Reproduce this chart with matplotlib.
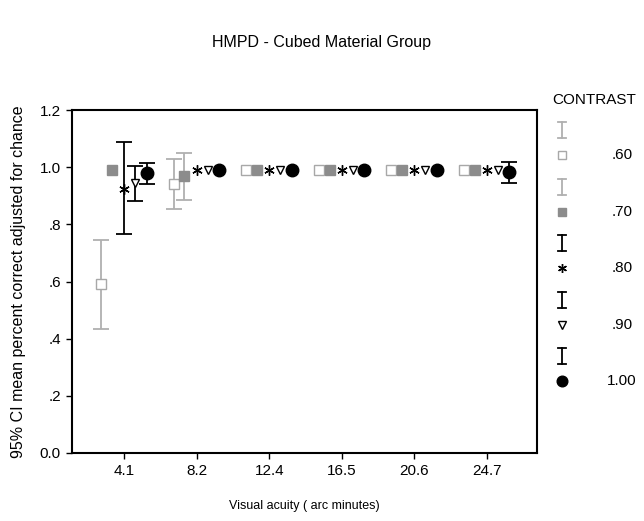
import numpy as np
import matplotlib.pyplot as plt

plt.rcParams['font.family'] = ['Liberation Sans', 'DejaVu Sans']

categories = ['4.1', '8.2', '12.4', '16.5', '20.6', '24.7']
contrasts = ['.60', '.70', '.80', '.90', '1.00']

# mean and 95% CI (low, high) per contrast, per acuity
mean_60 = [0.59, 0.94, 0.99, 0.99, 0.99, 0.99]
low_60 = [0.435, 0.855, 0.99, 0.99, 0.99, 0.99]
high_60 = [0.745, 1.03, 0.99, 0.99, 0.99, 0.99]

mean_70 = [0.99, 0.97, 0.99, 0.99, 0.99, 0.99]
low_70 = [0.99, 0.885, 0.99, 0.99, 0.99, 0.99]
high_70 = [0.99, 1.05, 0.99, 0.99, 0.99, 0.99]

mean_80 = [0.925, 0.99, 0.99, 0.99, 0.99, 0.99]
low_80 = [0.765, 0.99, 0.99, 0.99, 0.99, 0.99]
high_80 = [1.088, 0.99, 0.99, 0.99, 0.99, 0.99]

mean_90 = [0.945, 0.99, 0.99, 0.99, 0.99, 0.99]
low_90 = [0.882, 0.99, 0.99, 0.99, 0.99, 0.99]
high_90 = [1.004, 0.99, 0.99, 0.99, 0.99, 0.99]

mean_100 = [0.978, 0.99, 0.99, 0.99, 0.99, 0.982]
low_100 = [0.941, 0.99, 0.99, 0.99, 0.99, 0.945]
high_100 = [1.015, 0.99, 0.99, 0.99, 0.99, 1.018]

means = [mean_60, mean_70, mean_80, mean_90, mean_100]
lows = [low_60, low_70, low_80, low_90, low_100]
highs = [high_60, high_70, high_80, high_90, high_100]

offsets = [-0.32, -0.17, 0.0, 0.15, 0.31]
bar_colors = ['#b0b0b0', '#b0b0b0', 'black', 'black', 'black']
markers = ['s', 's', (6, 2, 0), 'v', 'o']
face = ['white', '#8c8c8c', 'black', 'white', 'black']
edge = ['#a8a8a8', '#8c8c8c', 'black', 'black', 'black']
msize = [6.5, 6.5, 7.5, 6, 9]

fig = plt.figure(figsize=(6.44, 5.21), dpi=100)
ax = fig.add_axes([72 / 644, 1 - 453 / 521, 465 / 644, 343 / 521])

x = np.arange(1, len(categories) + 1)
for i in range(len(contrasts)):
    m = np.array(means[i])
    lo = np.array(lows[i])
    hi = np.array(highs[i])
    xs = x + offsets[i]
    has = (hi - lo) > 0
    if has.any():
        ax.errorbar(xs[has], m[has], yerr=[m[has] - lo[has], hi[has] - m[has]],
                    fmt='none', ecolor=bar_colors[i], elinewidth=1.3,
                    capsize=6, capthick=1.3, zorder=2)
    ax.plot(xs, m, linestyle='none', marker=markers[i], markersize=msize[i],
            markerfacecolor=face[i], markeredgecolor=edge[i],
            markeredgewidth=1.0, color=edge[i], zorder=3)

ax.set_xlim(0.28, 6.69)
ax.set_ylim(0, 1.2)
ax.set_xticks(x)
ax.set_xticklabels(categories)
ax.set_yticks([0, 0.2, 0.4, 0.6, 0.8, 1.0, 1.2])
ax.set_yticklabels(['0.0', '.2', '.4', '.6', '.8', '1.0', '1.2'])
ax.tick_params(direction='out', length=4, width=1, labelsize=11, pad=4)
for s in ax.spines.values():
    s.set_linewidth(1.5)

ax.set_xlabel('Visual acuity ( arc minutes)', fontsize=9, labelpad=16)
ax.set_ylabel('95% CI mean percent correct adjusted for chance', fontsize=11.5,
              labelpad=10)
fig.text(322 / 644, 1 - 42 / 521, 'HMPD - Cubed Material Group',
         ha='center', va='center', fontsize=11.5)

# legend drawn in pixel coordinates
lax = fig.add_axes([0, 0, 1, 1])
lax.set_xlim(0, 644)
lax.set_ylim(521, 0)
lax.axis('off')
lax.text(594, 100, 'CONTRAST', ha='center', va='center', fontsize=11)
leg_y = [155, 212, 268, 325, 381]
for i, lab in enumerate(contrasts):
    yb = leg_y[i] - 25
    lax.plot([562, 562], [yb - 8, yb + 8], color=bar_colors[i], lw=1.3)
    lax.plot([558, 566], [yb - 8, yb - 8], color=bar_colors[i], lw=1.3)
    lax.plot([558, 566], [yb + 8, yb + 8], color=bar_colors[i], lw=1.3)
    lax.plot([562], [leg_y[i]], linestyle='none', marker=markers[i],
             markersize=msize[i] * 0.85, markerfacecolor=face[i],
             markeredgecolor=edge[i], markeredgewidth=1.0)
    lax.text(622, leg_y[i], lab, ha='center', va='center', fontsize=11)

fig.savefig('out.png', dpi=100)
